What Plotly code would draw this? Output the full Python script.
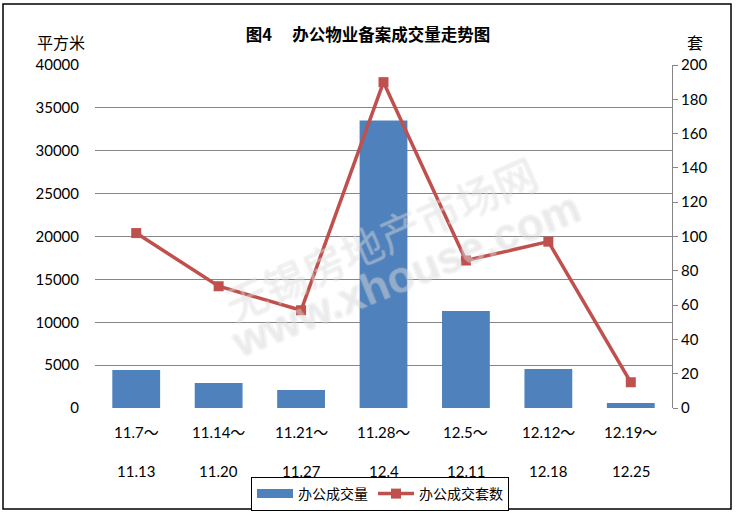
import plotly.graph_objects as go

categories_top = ["11.7～", "11.14～", "11.21～", "11.28～", "12.5～", "12.12～", "12.19～"]
categories_bottom = ["11.13", "11.20", "11.27", "12.4", "12.11", "12.18", "12.25"]
area_values = [4430, 2910, 2100, 33530, 11300, 4550, 590]
unit_values = [102, 71, 57, 190, 86, 97, 15]
left_ticks = [0, 5000, 10000, 15000, 20000, 25000, 30000, 35000, 40000]
right_ticks = [0, 20, 40, 60, 80, 100, 120, 140, 160, 180, 200]

W, H = 736, 516
L, R, T, B = 95, 64, 65, 108
PW, PH = W - L - R, H - T - B

def px_x(px):
    return (px - L) / PW

def px_y(py):
    return (H - B - py) / PH

NUM_FONT = "Lato, Noto Sans CJK SC, sans-serif"
CJK_FONT = "Noto Sans CJK SC, sans-serif"
BLUE = "#4F81BD"
RED = "#C0504D"

xs = list(range(len(categories_top)))

fig = go.Figure()
fig.add_trace(go.Bar(
    x=xs, y=area_values, name="办公成交量", width=0.58,
    marker=dict(color=BLUE, line=dict(width=0)),
    yaxis="y", showlegend=False,
))
# legend proxy for the bar series (wide rectangle like the original)
fig.add_trace(go.Scatter(
    x=[None], y=[None], name="办公成交量", mode="lines",
    line=dict(color=BLUE, width=9), yaxis="y",
))
fig.add_trace(go.Scatter(
    x=xs, y=unit_values, name="办公成交套数", mode="lines+markers",
    line=dict(color=RED, width=3.5),
    marker=dict(symbol="square", size=10, color=RED),
    yaxis="y2",
))

annotations = []
for i in xs:
    annotations.append(dict(x=i, y=0, xref="x", yref="paper", text=categories_top[i],
                            showarrow=False, yshift=-24, yanchor="middle",
                            font=dict(family=NUM_FONT, size=15, color="#000")))
    annotations.append(dict(x=i, y=0, xref="x", yref="paper", text=categories_bottom[i],
                            showarrow=False, yshift=-63, yanchor="middle",
                            font=dict(family=NUM_FONT, size=15, color="#000")))

annotations.append(dict(x=px_x(61), y=px_y(42), xref="paper", yref="paper", text="平方米",
                        showarrow=False, xanchor="center", yanchor="middle",
                        font=dict(family=CJK_FONT, size=16, color="#000")))
annotations.append(dict(x=px_x(695), y=px_y(42), xref="paper", yref="paper", text="套",
                        showarrow=False, xanchor="center", yanchor="middle",
                        font=dict(family=CJK_FONT, size=16, color="#000")))

# watermark
wm_shadow = ("1px 1px 0 rgba(170,170,170,0.3), -1px -1px 0 rgba(170,170,170,0.3), "
             "1px -1px 0 rgba(170,170,170,0.3), -1px 1px 0 rgba(170,170,170,0.3)")
annotations.append(dict(x=px_x(380), y=px_y(237), xref="paper", yref="paper", text="无锡房地产市场网",
                        showarrow=False, textangle=-24,
                        font=dict(family=CJK_FONT, size=42, color="rgba(255,255,255,0.3)", shadow=wm_shadow)))
annotations.append(dict(x=px_x(405), y=px_y(274), xref="paper", yref="paper", text="www.xhouse.com",
                        showarrow=False, textangle=-22,
                        font=dict(family="Liberation Sans, sans-serif", size=44, color="rgba(255,255,255,0.3)",
                                  weight="bold", shadow=wm_shadow)))

fig.update_layout(
    width=W, height=H,
    margin=dict(l=L, r=R, t=T, b=B, autoexpand=False),
    paper_bgcolor="white", plot_bgcolor="white",
    font=dict(family=NUM_FONT, size=15, color="#000"),
    title=dict(text="<b>图4　 办公物业备案成交量走势图</b>", x=0.5, xanchor="center",
               xref="container", yref="container", y=1 - 35 / H, yanchor="middle",
               font=dict(family=CJK_FONT, size=16.5, color="#000")),
    xaxis=dict(range=[-0.5, 6.5], showticklabels=False, showgrid=False, zeroline=False,
               showline=False, ticks="", fixedrange=True),
    yaxis=dict(range=[0, 40000], tickvals=left_ticks, ticktext=[str(v) for v in left_ticks],
               showgrid=True, gridcolor="#868686", gridwidth=1, zeroline=False, showline=False,
               ticks="", ticklabelstandoff=15, tickfont=dict(family=NUM_FONT, size=15)),
    yaxis2=dict(range=[0, 200], tickvals=right_ticks, ticktext=[str(v) for v in right_ticks],
                overlaying="y", side="right", showgrid=False, zeroline=False,
                showline=True, linecolor="#868686", linewidth=1,
                ticks="outside", ticklen=5, tickcolor="#868686", ticklabelstandoff=0,
                tickfont=dict(family=NUM_FONT, size=15)),
    showlegend=True,
    legend=dict(orientation="h", x=px_x(380), y=px_y(494), xanchor="center", yanchor="middle",
                bordercolor="#000", borderwidth=1, bgcolor="white",
                font=dict(family=CJK_FONT, size=14, color="#000"),
                itemwidth=36, tracegroupgap=0, traceorder="normal"),
    annotations=annotations,
    shapes=[dict(type="rect", xref="paper", yref="paper",
                 x0=px_x(3), x1=px_x(731), y0=px_y(509), y1=px_y(4),
                 line=dict(color="#000", width=1.5), fillcolor="rgba(0,0,0,0)", layer="above")],
)

fig.write_html("out.html", config={"displayModeBar": False},
               post_script="document.body.style.margin='0';document.body.style.padding='0';")
